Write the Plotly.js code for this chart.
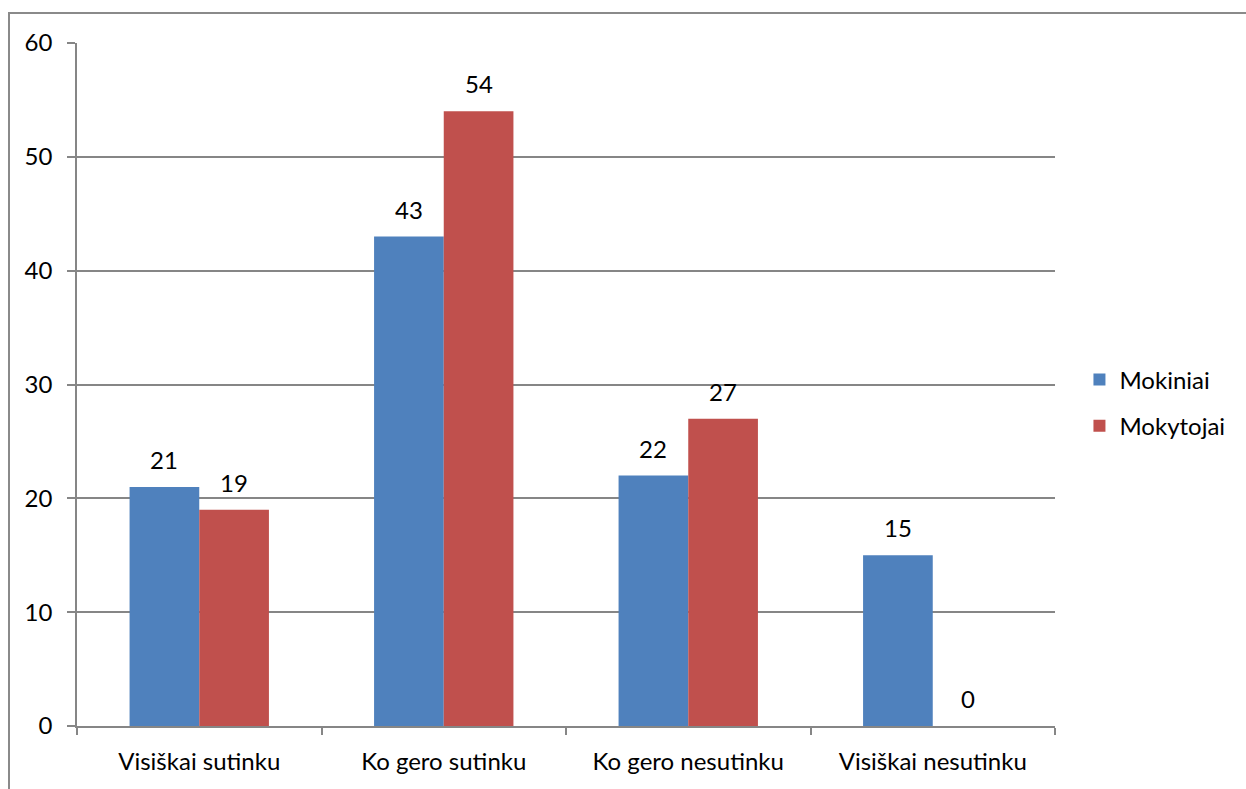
<!DOCTYPE html>
<html><head><meta charset="utf-8">
<script src="https://cdn.plot.ly/plotly-3.0.1.min.js"></script>
<style>
body{margin:0;padding:0;background:#fff;}
#frame{position:absolute;left:8px;top:12px;width:1300px;height:900px;border-top:2px solid #8a8a8a;border-left:2px solid #8a8a8a;}
#chart{position:absolute;left:0;top:0;width:1246px;height:789px;}
</style></head>
<body>
<div id="frame"></div>
<div id="chart"></div>
<script>
const categories = ["Visiškai sutinku", "Ko gero sutinku", "Ko gero nesutinku", "Visiškai nesutinku"];
const mokiniai = [21, 43, 22, 15];
const mokytojai = [19, 54, 27, 0];
const seriesNames = ["Mokiniai", "Mokytojai"];
const yTicks = [0, 10, 20, 30, 40, 50, 60];

const font = {family: "Lato, Noto Sans, sans-serif", size: 24, color: "#000"};
const colors = ["#4F81BD", "#C0504D"];
const traces = [
  {type: "bar", name: seriesNames[0], x: categories, y: mokiniai, marker: {color: colors[0]}, legendgroup: "a", hoverinfo: "x+y"},
  {type: "bar", name: seriesNames[1], x: categories, y: mokytojai, marker: {color: colors[1]}, legendgroup: "b", hoverinfo: "x+y"}
];
// value labels, placed via data coordinates
const annotations = [];
[mokiniai, mokytojai].forEach((vals, s) => {
  vals.forEach((v, i) => {
    annotations.push({x: categories[i], y: v, xref: "x", yref: "y", text: String(v), showarrow: false,
      xshift: s === 0 ? -35 : 35, yshift: 11, yanchor: "bottom", font: font});
  });
});
const layout = {
  width: 1246, height: 789,
  margin: {l: 77, r: 191, t: 43, b: 63},
  paper_bgcolor: "rgba(0,0,0,0)", plot_bgcolor: "rgba(0,0,0,0)",
  font: font,
  barmode: "group", bargap: 0.43, bargroupgap: 0,
  showlegend: true,
  annotations: annotations,
  legend: {x: 1.025, y: 0.473, yanchor: "middle", xanchor: "left", font: font, traceorder: "grouped", tracegroupgap: 12, itemwidth: 30},
  xaxis: {type: "category", showline: true, linecolor: "#868686", linewidth: 1.5, ticks: "outside", tickson: "boundaries",
          ticklen: 7, tickcolor: "#868686", tickwidth: 1.5, tickfont: font, showgrid: false, ticklabelstandoff: 13},
  yaxis: {range: [0, 60], tickvals: yTicks, ticktext: yTicks.map(String), showline: true, linecolor: "#868686", linewidth: 1.5,
          ticks: "outside", ticklen: 8, tickcolor: "#868686", tickwidth: 1.5, showgrid: true, gridcolor: "#868686", gridwidth: 1.5,
          tickfont: font, ticklabelstandoff: 10, zeroline: false}
};
Plotly.newPlot("chart", traces, layout, {displayModeBar: false});
</script>
</body></html>
